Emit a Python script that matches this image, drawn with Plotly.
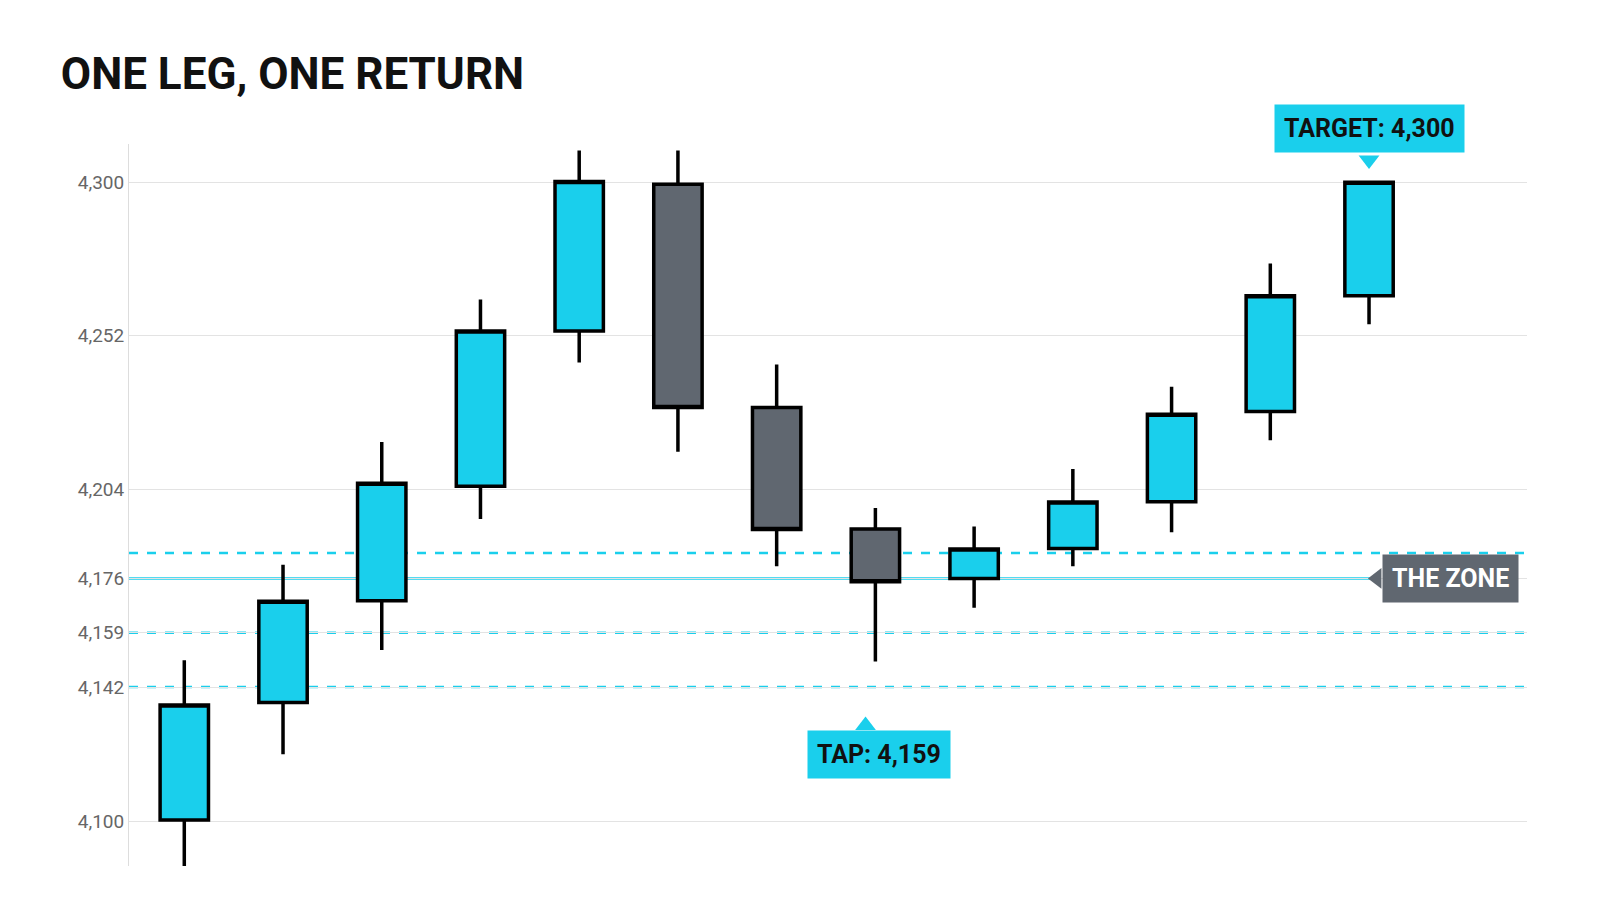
import plotly.graph_objects as go

idx = list(range(13))
opens  = [4100.4, 4137.2, 4169.0, 4204.9, 4253.5, 4299.4, 4229.5, 4191.5, 4176.0, 4185.4, 4200.0, 4228.3, 4264.5]
highs  = [4150.4, 4180.3, 4218.7, 4263.3, 4310.0, 4310.0, 4243.0, 4198.1, 4192.3, 4210.3, 4236.0, 4274.6, 4300.3]
lows   = [4086.0, 4121.0, 4153.6, 4194.6, 4243.6, 4215.7, 4179.8, 4150.0, 4166.8, 4179.8, 4190.5, 4219.3, 4255.6]
closes = [4136.4, 4168.9, 4205.8, 4253.5, 4300.3, 4229.5, 4191.3, 4175.0, 4185.2, 4199.9, 4227.4, 4264.5, 4300.0]
tick_vals = [4100, 4142, 4159, 4176, 4204, 4252, 4300]
tick_text = ["4,100", "4,142", "4,159", "4,176", "4,204", "4,252", "4,300"]
zone_mid = 4176
zone_dashed = [4184, 4159, 4142]
target = 4300
tap = 4159

CYAN = "#1ACFEC"
GRAY = "#606770"

fig = go.Figure()
fig.add_trace(go.Candlestick(
    x=idx, open=opens, high=highs, low=lows, close=closes,
    increasing=dict(fillcolor=CYAN, line=dict(color="black", width=3.5)),
    decreasing=dict(fillcolor=GRAY, line=dict(color="black", width=3.5)),
    whiskerwidth=0, showlegend=False, hoverinfo="skip"))

for v in zone_dashed:
    fig.add_shape(type="line", xref="paper", x0=0, x1=1, y0=v, y1=v,
                  line=dict(color=CYAN, width=2.5, dash="dash"), layer="below")
fig.add_shape(type="line", xref="x", x0=-0.56, x1=12.1, y0=zone_mid, y1=zone_mid,
              line=dict(color=CYAN, width=2.5), layer="below")

fig.add_trace(go.Scatter(x=[12], y=[4307], mode="markers", cliponaxis=False,
                         marker=dict(symbol="triangle-down", size=18, color=CYAN),
                         showlegend=False, hoverinfo="skip"))
fig.add_trace(go.Scatter(x=[6.9], y=[4130], mode="markers", cliponaxis=False,
                         marker=dict(symbol="triangle-up", size=18, color=CYAN),
                         showlegend=False, hoverinfo="skip"))
fig.add_trace(go.Scatter(x=[12.08], y=[zone_mid], mode="markers", cliponaxis=False,
                         marker=dict(symbol="triangle-left", size=18, color=GRAY),
                         showlegend=False, hoverinfo="skip"))

box = dict(showarrow=False, borderpad=9, font=dict(family="Roboto", size=25, color="#111"))
fig.add_annotation(x=12, y=target, yshift=54, text="<b>TARGET: 4,300</b>", bgcolor=CYAN, **box)
fig.add_annotation(x=7.04, y=4121, text="<b>TAP: 4,159</b>", bgcolor=CYAN, **box)
fig.add_annotation(x=12.83, y=zone_mid, text="<b>THE ZONE</b>", bgcolor=GRAY,
                   showarrow=False, borderpad=9, font=dict(family="Roboto", size=25, color="white"))

fig.update_layout(
    width=1600, height=914, paper_bgcolor="white", plot_bgcolor="white",
    margin=dict(l=121, r=81, t=136, b=56),
    title=dict(text="<b>ONE LEG, ONE RETURN</b>", x=0.033, xanchor="left", y=0.945,
               font=dict(family="Roboto", size=44, color="#111")),
    xaxis=dict(range=[-0.56, 13.6], visible=False, rangeslider=dict(visible=False)),
    yaxis=dict(range=[4086, 4312], tickvals=tick_vals, ticktext=tick_text,
               showgrid=True, gridcolor="#E3E3E3", zeroline=False,
               showline=True, linecolor="#DDDDDD",
               tickfont=dict(family="Roboto", size=19, color="#666"), ticks=""),
)
fig.write_html("out.html")
